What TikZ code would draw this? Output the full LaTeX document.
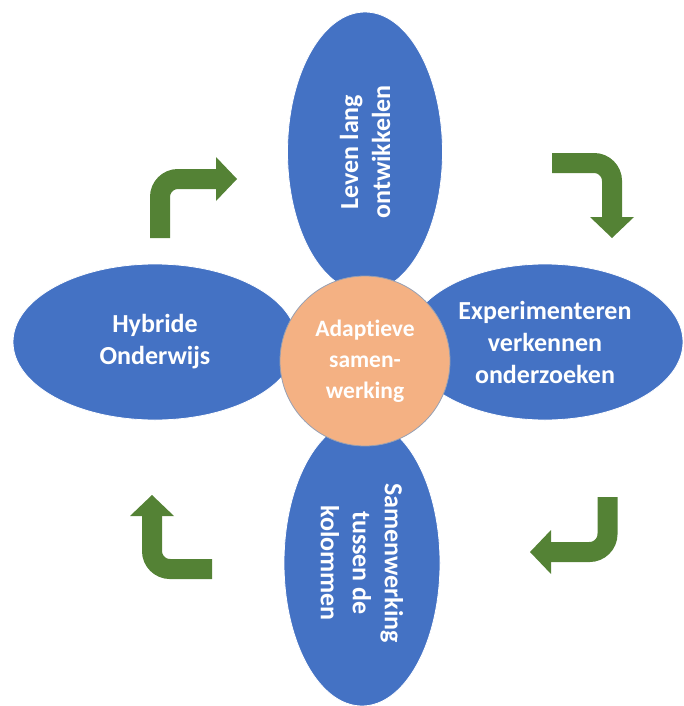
\documentclass[tikz,border=0pt]{standalone}
\usepackage{fontspec}
\setmainfont{Carlito}[Ligatures=NoCommon]
\usepackage{xcolor}
\usepackage{tikz}
\usetikzlibrary{arrows.meta, positioning, shapes.geometric}
\definecolor{petal}{RGB}{68,114,196}
\definecolor{core}{RGB}{244,177,131}
\definecolor{coreline}{RGB}{150,160,180}
\definecolor{turn}{RGB}{84,130,53}

\tikzset{
    petalbox/.style={ellipse, fill=petal, draw=white, line width=0.8pt, inner sep=0pt, text=white, align=center, font=\bfseries\fontsize{26}{32}\selectfont},
    turnarrow/.style={draw=turn, line width=20pt, rounded corners=18pt, -{Triangle[length=21pt, width=44pt, line width=0pt]}}
}

\begin{document}
\begin{tikzpicture}[x=1pt, y=-1pt]
    \useasboundingbox (0,0) rectangle (684,706);

    % petals
    \node (leven) [petalbox, minimum width=280pt, minimum height=155pt, rotate=90] at (365,152) {Leven lang\\ ontwikkelen};
    \node (experiment) [petalbox, minimum width=276pt, minimum height=156pt] at (545,342) {Experimenteren\\ verkennen\\ onderzoeken};
    \node (kolommen) [petalbox, minimum width=286pt, minimum height=156pt, rotate=-90] at (362,563) {Samenwerking\\ tussen de\\ kolommen};
    \node (hybride) [petalbox, minimum width=284pt, minimum height=156pt] at (155,342) {Hybride\\ Onderwijs};

    % centre
    \node (adaptief) [circle, fill=core, draw=coreline, line width=0.8pt, minimum size=170pt, inner sep=0pt, text=white, align=center, font=\bfseries\fontsize{23.5}{31}\selectfont] at (365,361) {Adaptieve\\ samen-\\ werking};

    % turning arrows
    \coordinate (tl_start) at (160,238);
    \coordinate (tl_end) at (237,179);
    \coordinate (tr_start) at (552,163);
    \coordinate (tr_end) at (612,238);
    \coordinate (br_start) at (607.5,497);
    \coordinate (br_end) at (530,552);
    \coordinate (bl_start) at (212,569);
    \coordinate (bl_end) at (152,495);
    \draw[turnarrow] (tl_start) |- (tl_end);
    \draw[turnarrow] (tr_start) -| (tr_end);
    \draw[turnarrow] (br_start) |- (br_end);
    \draw[turnarrow] (bl_start) -| (bl_end);
\end{tikzpicture}
\end{document}
